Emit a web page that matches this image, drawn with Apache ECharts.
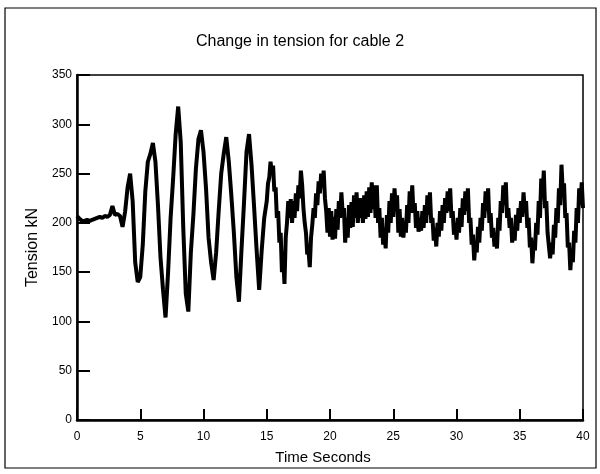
<!DOCTYPE html>
<html>
<head>
<meta charset="utf-8">
<script src="https://cdn.jsdelivr.net/npm/echarts@6/dist/echarts.min.js"></script>
<style>
  html, body { margin: 0; padding: 0; background: #fff; }
  #chart { width: 600px; height: 474px; }
</style>
</head>
<body>
<div id="chart"></div>
<script>
// time samples (s) and tension readings (kN)
// first part sampled every 0.2 s, the noisy tail every 0.1 s
var times = [
  0.0, 0.2, 0.4, 0.6, 0.8, 1.0, 1.2, 1.4, 1.6, 1.8,
  2.0, 2.2, 2.4, 2.6, 2.8, 3.0, 3.2, 3.4, 3.6, 3.8,
  4.0, 4.2, 4.4, 4.6, 4.8, 5.0, 5.2, 5.4, 5.6, 5.8,
  6.0, 6.2, 6.4, 6.6, 6.8, 7.0, 7.2, 7.4, 7.6, 7.8,
  8.0, 8.2, 8.4, 8.6, 8.8, 9.0, 9.2, 9.4, 9.6, 9.8,
  10.0, 10.2, 10.4, 10.6, 10.8, 11.0, 11.2, 11.4, 11.6, 11.8,
  12.0, 12.2, 12.4, 12.6, 12.8, 13.0, 13.2, 13.4, 13.6, 13.8,
  14.0, 14.2, 14.4, 14.6, 14.8,
  15.0, 15.1, 15.2, 15.3, 15.4, 15.5, 15.6, 15.7, 15.8, 15.9,
  16.0, 16.1, 16.2, 16.3, 16.4, 16.5, 16.6, 16.7, 16.8, 16.9,
  17.0, 17.1, 17.2, 17.3, 17.4, 17.5, 17.6, 17.7, 17.8, 17.9,
  18.0, 18.1, 18.2, 18.3, 18.4, 18.5, 18.6, 18.7, 18.8, 18.9,
  19.0, 19.1, 19.2, 19.3, 19.4, 19.5, 19.6, 19.7, 19.8, 19.9,
  20.0, 20.1, 20.2, 20.3, 20.4, 20.5, 20.6, 20.7, 20.8, 20.9,
  21.0, 21.1, 21.2, 21.3, 21.4, 21.5, 21.6, 21.7, 21.8, 21.9,
  22.0, 22.1, 22.2, 22.3, 22.4, 22.5, 22.6, 22.7, 22.8, 22.9,
  23.0, 23.1, 23.2, 23.3, 23.4, 23.5, 23.6, 23.7, 23.8, 23.9,
  24.0, 24.1, 24.2, 24.3, 24.4, 24.5, 24.6, 24.7, 24.8, 24.9,
  25.0, 25.1, 25.2, 25.3, 25.4, 25.5, 25.6, 25.7, 25.8, 25.9,
  26.0, 26.1, 26.2, 26.3, 26.4, 26.5, 26.6, 26.7, 26.8, 26.9,
  27.0, 27.1, 27.2, 27.3, 27.4, 27.5, 27.6, 27.7, 27.8, 27.9,
  28.0, 28.1, 28.2, 28.3, 28.4, 28.5, 28.6, 28.7, 28.8, 28.9,
  29.0, 29.1, 29.2, 29.3, 29.4, 29.5, 29.6, 29.7, 29.8, 29.9,
  30.0, 30.1, 30.2, 30.3, 30.4, 30.5, 30.6, 30.7, 30.8, 30.9,
  31.0, 31.1, 31.2, 31.3, 31.4, 31.5, 31.6, 31.7, 31.8, 31.9,
  32.0, 32.1, 32.2, 32.3, 32.4, 32.5, 32.6, 32.7, 32.8, 32.9,
  33.0, 33.1, 33.2, 33.3, 33.4, 33.5, 33.6, 33.7, 33.8, 33.9,
  34.0, 34.1, 34.2, 34.3, 34.4, 34.5, 34.6, 34.7, 34.8, 34.9,
  35.0, 35.1, 35.2, 35.3, 35.4, 35.5, 35.6, 35.7, 35.8, 35.9,
  36.0, 36.1, 36.2, 36.3, 36.4, 36.5, 36.6, 36.7, 36.8, 36.9,
  37.0, 37.1, 37.2, 37.3, 37.4, 37.5, 37.6, 37.7, 37.8, 37.9,
  38.0, 38.1, 38.2, 38.3, 38.4, 38.5, 38.6, 38.7, 38.8, 38.9,
  39.0, 39.1, 39.2, 39.3, 39.4, 39.5, 39.6, 39.7, 39.8, 39.9,
  40.0
];
var tension = [
  207, 204, 202, 202, 203, 202, 203, 204, 205, 206,
  205, 207, 206, 208, 217, 208, 209, 207, 196, 211,
  236, 250, 222, 160, 140, 145, 178, 232, 262, 270,
  281, 262, 218, 165, 132, 104, 150, 205, 245, 290,
  318, 282, 195, 128, 110, 170, 208, 255, 285, 294,
  272, 235, 185, 160, 142, 170, 212, 250, 270, 287,
  262, 228, 190, 145, 120, 172, 220, 272, 290, 258,
  216, 172, 132, 172, 205,
  222, 240, 246, 262, 250, 258, 232, 236, 205, 212,
  180, 190, 150, 165, 138, 185, 200, 222, 205, 224,
  200, 222, 205, 230, 212, 238, 225, 253, 238, 215,
  200, 190, 168, 172, 155, 185, 198, 215, 205, 230,
  218, 242, 230, 250, 236, 253, 225, 212, 190, 215,
  186, 212, 183, 206, 184, 214, 193, 222, 205, 231,
  210, 215, 180, 205, 185, 218, 195, 221, 196, 228,
  205, 231, 200, 225, 205, 225, 200, 228, 204, 232,
  206, 236, 210, 241, 214, 238, 205, 238, 200, 215,
  185, 205, 178, 195, 174, 208, 190, 222, 200, 230,
  206, 235, 215, 228, 190, 214, 186, 205, 185, 200,
  190, 218, 200, 232, 210, 238, 210, 220, 195, 212,
  191, 205, 192, 212, 195, 218, 200, 228, 208, 231,
  200, 205, 182, 195, 176, 200, 186, 212, 192, 218,
  200, 225, 210, 232, 212, 235, 205, 212, 188, 200,
  183, 205, 190, 215, 196, 225, 208, 232, 212, 235,
  200, 205, 178, 188, 162, 180, 170, 196, 180, 205,
  192, 220, 205, 232, 212, 235, 200, 210, 185, 195,
  176, 190, 174, 205, 192, 222, 210, 238, 218, 241,
  205, 215, 195, 205, 180, 195, 182, 208, 192, 215,
  200, 222, 206, 231, 210, 222, 195, 205, 175, 185,
  159, 180, 172, 200, 188, 222, 205, 245, 225, 253,
  215, 222, 190, 192, 164, 180, 168, 198, 185, 215,
  200, 235, 218, 259, 232, 240, 205, 210, 175, 180,
  152, 172, 160, 192, 180, 215, 200, 235, 218, 241,
  215
];
var xTicks = [0, 5, 10, 15, 20, 25, 30, 35, 40];
var yTicks = [0, 50, 100, 150, 200, 250, 300, 350];

var points = times.map(function (t, i) { return [t, tension[i]]; });

var chart = echarts.init(document.getElementById('chart'));
var font = 'Liberation Sans, Arial, sans-serif';
chart.setOption({
  animation: false,
  backgroundColor: '#fff',
  title: {
    text: 'Change in tension for cable 2',
    left: 'center',
    top: 29,
    textStyle: { fontFamily: font, fontSize: 16, fontWeight: 'normal', color: '#000' }
  },
  grid: { left: 77, right: 17, top: 75, bottom: 54 },
  xAxis: {
    type: 'value',
    min: xTicks[0],
    max: xTicks[xTicks.length - 1],
    interval: 5,
    name: 'Time Seconds',
    nameLocation: 'middle',
    nameGap: 30,
    nameTextStyle: { fontFamily: font, fontSize: 15, color: '#000', padding: [0, 14, 0, 0] },
    axisLine: { lineStyle: { color: '#000', width: 2.5 } },
    axisTick: { inside: true, length: 11, lineStyle: { color: '#000', width: 2 } },
    axisLabel: { fontFamily: font, fontSize: 12, color: '#000', margin: 11 },
    splitLine: { show: false }
  },
  yAxis: {
    type: 'value',
    min: yTicks[0],
    max: yTicks[yTicks.length - 1],
    interval: 50,
    name: 'Tension kN',
    nameLocation: 'middle',
    nameGap: 33,
    nameTextStyle: { fontFamily: font, fontSize: 16, color: '#000' },
    axisLine: { show: true, lineStyle: { color: '#000', width: 2.5 } },
    axisTick: { show: true, inside: true, length: 13, lineStyle: { color: '#000', width: 2 } },
    axisLabel: { fontFamily: font, fontSize: 12, color: '#000', margin: 5 },
    splitLine: { show: false }
  },
  series: [{
    type: 'line',
    data: points,
    symbol: 'none',
    lineStyle: { color: '#000', width: 4 },
    z: 3
  }],
  graphic: [
    {
      type: 'rect',
      shape: { x: 77, y: 75, width: 506, height: 345 },
      style: { fill: 'none', stroke: '#000', lineWidth: 1.5 },
      silent: true
    },
    {
      type: 'rect',
      shape: { x: 5, y: 8, width: 591, height: 460 },
      style: { fill: 'none', stroke: '#000', lineWidth: 1.2 },
      silent: true
    }
  ]
});
</script>
</body>
</html>
